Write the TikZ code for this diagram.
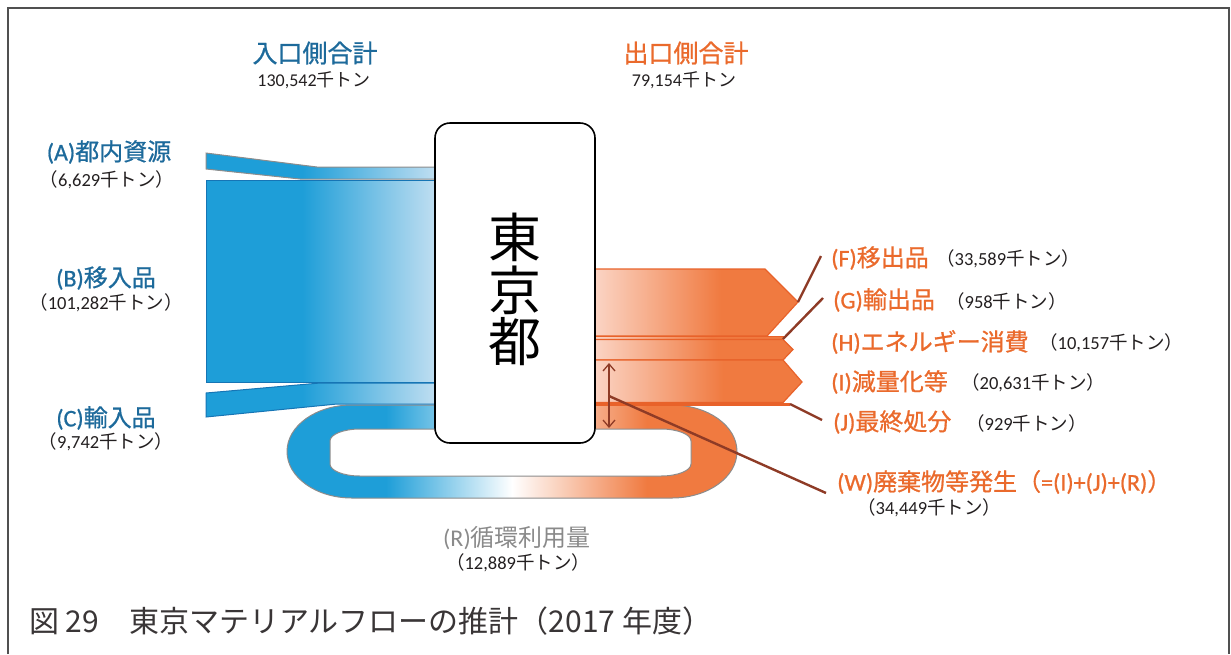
\documentclass[tikz,border=0pt]{standalone}
\usepackage{fontspec}
\setmainfont{Carlito}
\newfontfamily\cjk{Noto Sans CJK JP}
\newfontfamily\cjkb{Noto Sans CJK JP}[FakeBold=0.8]
\newfontfamily\latb{Carlito}[FakeBold=0.8]
\usetikzlibrary{arrows.meta}
\definecolor{inblue}{HTML}{1E9ED8}
\definecolor{inlight}{HTML}{BFDEF1}
\definecolor{inedge}{HTML}{1675B5}
\definecolor{outorange}{HTML}{F07A40}
\definecolor{outlight}{HTML}{FBD4C4}
\definecolor{outedge}{HTML}{E8622A}
\definecolor{leader}{HTML}{8E3B26}
\definecolor{lblblue}{HTML}{1D6A9B}
\definecolor{lblorange}{HTML}{EA6A2C}
\definecolor{lblgray}{HTML}{8A8A8A}
\definecolor{txt}{HTML}{231F20}
\definecolor{framecol}{HTML}{505050}
\definecolor{loopedge}{HTML}{8C8C8C}
\pgfdeclarehorizontalshading{inshade}{100bp}{color(0bp)=(inblue); color(46bp)=(inblue); color(75bp)=(inlight); color(100bp)=(inlight)}
\pgfdeclarehorizontalshading{outshade}{100bp}{color(0bp)=(outlight); color(25bp)=(outlight); color(56bp)=(outorange); color(100bp)=(outorange)}
\pgfdeclarehorizontalshading{loopshade}{100bp}{color(0bp)=(inblue); color(36bp)=(inblue); color(50bp)=(white); color(65bp)=(outorange); color(100bp)=(outorange)}
\newcommand\J[1]{{\cjk #1}}
\newcommand\JB[1]{{\cjkb #1}}
\tikzset{
  inband/.style={shading=inshade, draw=inedge, line width=1pt},
  outband/.style={shading=outshade, draw=outedge, line width=1.2pt},
  leaderline/.style={draw=leader, line width=2.4pt},
  lblL/.style={inner sep=0pt, font=\latb\fontsize{24}{28}\selectfont, text=lblblue},
  lblR/.style={inner sep=0pt, anchor=west, font=\latb\fontsize{24}{28}\selectfont, text=lblorange},
  amt/.style={inner sep=0pt, font=\fontsize{18.5}{21}\selectfont, text=txt},
  amtR/.style={amt, anchor=west},
  total/.style={inner sep=0pt, font=\fontsize{25}{30}\selectfont},
  bigchar/.style={inner sep=0pt, font=\cjk\fontsize{53}{56}\selectfont, text=black},
}
\begin{document}
\begin{tikzpicture}[x=1pt, y=-1pt]
\useasboundingbox (0,0) rectangle (1231,654);
% frame
\draw[framecol, line width=2pt] (8,654) -- (8,8) -- (1229,8) -- (1229,654);
% recycling loop
\shade[shading=loopshade, draw=loopedge, line width=1pt]
  (352,405) -- (672,405) .. controls (707.9,405) and (737,425.8) .. (737,451.5)
  .. controls (737,477.2) and (707.9,498) .. (672,498) -- (352,498)
  .. controls (316.1,498) and (287,477.2) .. (287,451.5)
  .. controls (287,425.8) and (316.1,405) .. (352,405) -- cycle;
\filldraw[fill=white, draw=loopedge, line width=1pt]
  (360,429) -- (661,429) .. controls (677.6,429) and (691,434.4) .. (691,441)
  -- (691,464) .. controls (691,470.6) and (677.6,476) .. (661,476)
  -- (360,476) .. controls (343.4,476) and (330,470.6) .. (330,464)
  -- (330,441) .. controls (330,434.4) and (343.4,429) .. (360,429) -- cycle;
% inflows
\shade[inband, draw=loopedge] (206,153) -- (317,167) -- (435,167) -- (435,179) -- (300,179) -- (206,169) -- cycle;
\shade[inband] (206,180) rectangle (435,382);
\shade[inband] (206,393) -- (320,383) -- (435,383) -- (435,404) -- (337,404) -- (206,417) -- cycle;
% outflows
\shade[outband] (595,269) -- (765,269) -- (798,302) -- (767,336) -- (595,336) -- cycle;
\shade[outband, line width=1pt] (595,336.5) rectangle (783,339.5);
\shade[outband] (595,339.5) -- (783,339.5) -- (793,349.5) -- (783,360) -- (595,360) -- cycle;
\shade[outband] (595,360) -- (783,360) -- (802,382) -- (783,402.5) -- (595,402.5) -- cycle;
\fill[outedge] (595,402.5) rectangle (790,405.5);
% Tokyo box
\node[draw=black, fill=white, rounded corners=15pt, line width=1.6pt, minimum width=160pt, minimum height=320pt, inner sep=0pt] (tokyo) at (515,283) {};
\node[bigchar] (t1) at (515,237) {東};
\node[bigchar] (t2) at (515,290) {京};
\node[bigchar] (t3) at (515,342) {都};
% leader coordinates
\coordinate (Fpt) at (798,302); \coordinate (Fend) at (821,256);
\coordinate (Gpt) at (783,339); \coordinate (Gend) at (823,298);
\coordinate (Jpt) at (790,404); \coordinate (Jend) at (822,420);
\coordinate (Wpt) at (609,396); \coordinate (Wend) at (826,493);
\coordinate (arrTop) at (609,363); \coordinate (arrBot) at (609,428);
\draw[leaderline] (Fpt) -- (Fend);
\draw[leaderline] (Gpt) -- (Gend);
\draw[leaderline] (Jpt) -- (Jend);
\draw[leaderline] (Wpt) -- (Wend);
\draw[leader, line width=1.3pt, {Straight Barb[length=7pt,width=12pt]}-{Straight Barb[length=7pt,width=12pt]}] (arrTop) -- (arrBot);
% top totals
\node[total, text=lblblue] (inTot) at (315,53) {\JB{入口側合計}};
\node[amt, font=\fontsize{18}{20}\selectfont] (inTotV) at (314,80) {130,542\J{千トン}};
\node[total, text=lblorange] (outTot) at (686,53) {\JB{出口側合計}};
\node[amt, font=\fontsize{18}{20}\selectfont] (outTotV) at (684,80) {79,154\J{千トン}};
% left labels
\node[lblL] (Alab) at (109,152) {(A)\JB{都内資源}};
\node[amt] (Aamt) at (107,180) {\J{（}6,629\J{千トン）}};
\node[lblL] (Blab) at (106,278) {(B)\JB{移入品}};
\node[amt] (Bamt) at (106,303) {\J{（}101,282\J{千トン）}};
\node[lblL] (Clab) at (106,418) {(C)\JB{輸入品}};
\node[amt] (Camt) at (106,442) {\J{（}9,742\J{千トン）}};
% right labels
\node[lblR] (Flab) at (831,258) {(F)\JB{移出品}};
\node[amtR] (Famt) at (936,259) {\J{（}33,589\J{千トン）}};
\node[lblR] (Glab) at (833,300) {(G)\JB{輸出品}};
\node[amtR] (Gamt) at (946,301) {\J{（}958\J{千トン）}};
\node[lblR] (Hlab) at (831,342) {(H)\JB{エネルギー消費}};
\node[amtR] (Hamt) at (1039,343) {\J{（}10,157\J{千トン）}};
\node[lblR] (Ilab) at (831,382) {(I)\JB{減量化等}};
\node[amtR] (Iamt) at (961,383) {\J{（}20,631\J{千トン）}};
\node[lblR] (Jlab) at (833,422) {(J)\JB{最終処分}};
\node[amtR] (Jamt) at (966,423) {\J{（}929\J{千トン）}};
\node[lblR] (Wlab) at (837,482) {(W)\JB{廃棄物等発生（}=(I)+(J)+(R)\JB{）}};
\node[amtR] (Wamt) at (857,508) {\J{（}34,449\J{千トン）}};
% recycling label
\node[lblL, font=\fontsize{24}{28}\selectfont, text=lblgray] (Rlab) at (517,538) {(R)\J{循環利用量}};
\node[amt] (Ramt) at (518,563) {\J{（}12,889\J{千トン）}};
% caption
\node[inner sep=0pt, anchor=west, font=\cjk\fontsize{30}{34}\selectfont, text=txt!90] (cap) at (29,621) {図 29　東京マテリアルフローの推計（2017 年度）};
\end{tikzpicture}
\end{document}
